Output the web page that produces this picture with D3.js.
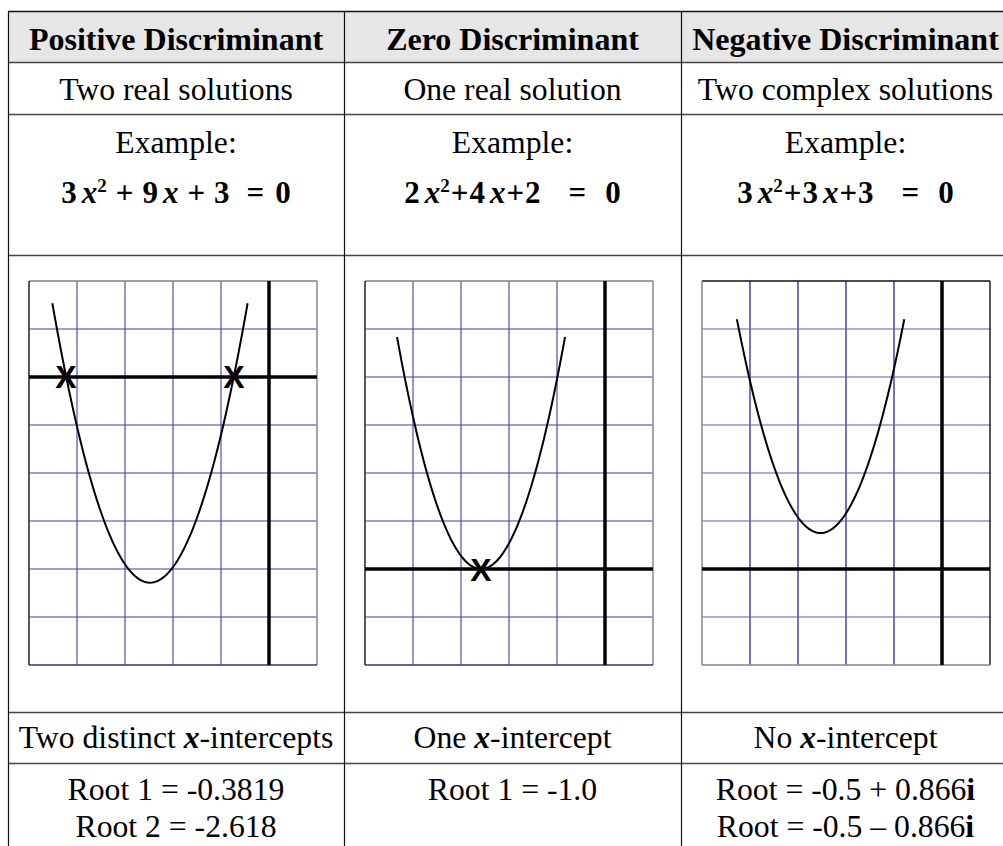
<!DOCTYPE html>
<html>
<head>
<meta charset="utf-8">
<script src="https://cdn.jsdelivr.net/npm/d3@7"></script>
<style>
  html, body { margin: 0; padding: 0; background: #fff; }
  svg { display: block; }
  text { font-family: "Liberation Serif", "Times New Roman", serif; fill: #000; }
</style>
</head>
<body>
<svg id="chart"></svg>
<script>
// table content
var headers   = ["Positive Discriminant", "Zero Discriminant", "Negative Discriminant"];
var solutions = ["Two real solutions", "One real solution", "Two complex solutions"];
var coefA = [3, 2, 3];
var coefB = [9, 4, 3];
var coefC = [3, 2, 3];
var spacedEq = [true, false, false];   // first example is typed with spaces round "+"
var interceptPre  = ["Two distinct ", "One ", "No "];
var interceptPost = ["-intercepts", "-intercept", "-intercept"];
var rootLines = [
  ["Root 1 = -0.3819", "Root 2 = -2.618"],
  ["Root 1 = -1.0"],
  ["Root = -0.5 + 0.866", "Root = -0.5 \u2013 0.866"]
];
var imagUnit = [false, false, true];

// sketch of each graph (the drawings are not to exact scale)
var roots   = [[-2.618, -0.382], [-1.0], []];
var curveX  = [[-2.8, -0.2], [-2.12, 0.12], [-1.62, 0.62]];
var viewX   = [[-3.111, 0.724], [-2.547, 1.293], [-2.087, 1.767]];
var viewY   = [[-5.245, 1.724], [-1.038, 3.114], [-0.074, 6.687]];
var axisRow = [2, 6, 6];   // horizontal grid line used as x-axis
var axisCol = [5, 5, 5];   // vertical grid line used as y-axis
var gridCols = 6, gridRows = 8;

var width = 1003, height = 846;
var colEdges = [8, 344, 681, 1010];
var rowEdges = [11, 62, 114, 255, 712, 763, 900];

var svg = d3.select("#chart").attr("width", width).attr("height", height);

// header background
svg.append("rect")
    .attr("x", colEdges[0]).attr("y", rowEdges[0])
    .attr("width", colEdges[3] - colEdges[0]).attr("height", rowEdges[1] - rowEdges[0])
    .attr("fill", "#e6e6e6");

// row rules
svg.selectAll(".hrule")
    .data(rowEdges.slice(0, 6))
    .enter().append("line")
    .attr("class", "hrule")
    .attr("x1", colEdges[0]).attr("x2", colEdges[3])
    .attr("y1", function(d) { return d + 0.5; })
    .attr("y2", function(d) { return d + 0.5; })
    .attr("stroke", function(d, i) { return i == 0 ? "#111" : "#444"; })
    .attr("stroke-width", 1.4);

// column rules
svg.selectAll(".vrule")
    .data(colEdges)
    .enter().append("line")
    .attr("class", "vrule")
    .attr("x1", function(d) { return d + 0.5; })
    .attr("x2", function(d) { return d + 0.5; })
    .attr("y1", rowEdges[0]).attr("y2", height)
    .attr("stroke", "#111")
    .attr("stroke-width", 1.2);

var centers = d3.range(3).map(function(i) { return (colEdges[i] + colEdges[i + 1]) / 2; });

function addLine(i, y, txt, opts) {
  return svg.append("text")
      .attr("x", centers[i])
      .attr("y", y)
      .attr("text-anchor", "middle")
      .style("font-size", opts && opts.bold ? "32px" : "31.7px")
      .style("font-weight", opts && opts.bold ? "bold" : null)
      .text(txt);
}

headers.forEach(function(h, i) { addLine(i, 50, h, {bold: true}); });
solutions.forEach(function(s, i) { addLine(i, 100, s); });
headers.forEach(function(h, i) { addLine(i, 153, "Example:"); });

// the example equations, built from the coefficients
headers.forEach(function(h, i) {
  var gap = spacedEq[i] ? 9 : 1;
  var t = svg.append("text")
      .attr("x", centers[i])
      .attr("y", 203)
      .attr("text-anchor", "middle")
      .style("font-size", "31px")
      .style("font-weight", "bold");
  t.append("tspan").text(coefA[i]);
  t.append("tspan").attr("dx", 5).style("font-style", "italic").text("x");
  t.append("tspan").attr("dx", 0).attr("dy", -11).style("font-size", "19px").text("2");
  t.append("tspan").attr("dx", gap).attr("dy", 11).text("+");
  t.append("tspan").attr("dx", gap).text(coefB[i]);
  t.append("tspan").attr("dx", 5).style("font-style", "italic").text("x");
  t.append("tspan").attr("dx", gap).text("+");
  t.append("tspan").attr("dx", gap).text(coefC[i]);
  t.append("tspan").attr("dx", spacedEq[i] ? 17 : 28).text("=");
  t.append("tspan").attr("dx", spacedEq[i] ? 11 : 19).text("0");
});

// graphs
headers.forEach(function(h, i) {
  var left = colEdges[i] + 21, top = 281;
  var cell = 48;
  var gx = d3.scaleLinear().domain([0, gridCols]).range([left, left + gridCols * cell]);
  var gy = d3.scaleLinear().domain([0, gridRows]).range([top, top + gridRows * cell]);

  var x = d3.scaleLinear().domain(viewX[i]).range(gx.range());
  var y = d3.scaleLinear().domain(viewY[i]).range([gy.range()[1], gy.range()[0]]);

  var g = svg.append("g").attr("class", "graph");

  g.selectAll(".gv")
      .data(d3.range(1, gridCols))
      .enter().append("line")
      .attr("x1", function(d) { return gx(d); }).attr("x2", function(d) { return gx(d); })
      .attr("y1", gy(0)).attr("y2", gy(gridRows))
      .attr("stroke", i == 2 ? "#000080" : "#3e3eaa")
      .attr("stroke-width", 1.1);

  g.selectAll(".gh")
      .data(d3.range(1, gridRows))
      .enter().append("line")
      .attr("x1", gx(0)).attr("x2", gx(gridCols))
      .attr("y1", function(d) { return gy(d); }).attr("y2", function(d) { return gy(d); })
      .attr("stroke", i == 2 ? "#5a5ab4" : "#3e3eaa")
      .attr("stroke-width", 1.1);

  // frame
  g.append("line").attr("x1", gx(0)).attr("x2", gx(gridCols)).attr("y1", gy(0)).attr("y2", gy(0))
      .attr("stroke", i == 2 ? "#111" : "#808080").attr("stroke-width", 1.4);
  g.append("line").attr("x1", gx(gridCols)).attr("x2", gx(gridCols)).attr("y1", gy(0)).attr("y2", gy(gridRows))
      .attr("stroke", i == 2 ? "#111" : "#808080").attr("stroke-width", 1.4);
  g.append("line").attr("x1", gx(0)).attr("x2", gx(gridCols)).attr("y1", gy(gridRows)).attr("y2", gy(gridRows))
      .attr("stroke", i == 2 ? "#8080a0" : "#303080").attr("stroke-width", 1.4);
  g.append("line").attr("x1", gx(0)).attr("x2", gx(0)).attr("y1", gy(0)).attr("y2", gy(gridRows))
      .attr("stroke", i == 2 ? "#808080" : "#111").attr("stroke-width", 1.4);

  // axes
  g.append("line")
      .attr("x1", gx(0)).attr("x2", gx(gridCols))
      .attr("y1", gy(axisRow[i])).attr("y2", gy(axisRow[i]))
      .attr("stroke", "#000").attr("stroke-width", 3.5);
  g.append("line")
      .attr("x1", gx(axisCol[i])).attr("x2", gx(axisCol[i]))
      .attr("y1", gy(0)).attr("y2", gy(gridRows))
      .attr("stroke", "#000").attr("stroke-width", 3.5);

  // parabola
  var a = coefA[i], b = coefB[i], c = coefC[i];
  var pts = d3.range(0, 1.0001, 0.01).map(function(t) {
    var xv = curveX[i][0] + t * (curveX[i][1] - curveX[i][0]);
    return [xv, a * xv * xv + b * xv + c];
  });
  g.append("path")
      .datum(pts)
      .attr("fill", "none")
      .attr("stroke", "#000")
      .attr("stroke-width", 2)
      .attr("d", d3.line().x(function(d) { return x(d[0]); }).y(function(d) { return y(d[1]); }));

  // intercept marks
  g.selectAll(".mark")
      .data(roots[i])
      .enter().append("text")
      .attr("x", function(d) { return x(d); })
      .attr("y", y(0))
      .attr("dy", "0.36em")
      .attr("text-anchor", "middle")
      .style("font-family", "'Liberation Sans', Arial, sans-serif")
      .style("font-weight", "bold")
      .style("font-size", "32px")
      .text("X");
});

// intercept row
headers.forEach(function(h, i) {
  var t = addLine(i, 748, "");
  t.append("tspan").text(interceptPre[i]);
  t.append("tspan").style("font-weight", "bold").style("font-style", "italic").text("x");
  t.append("tspan").text(interceptPost[i]);
});

// roots row
rootLines.forEach(function(lines, i) {
  lines.forEach(function(l, k) {
    var t = addLine(i, 800 + k * 37, "");
    t.append("tspan").text(l);
    if (imagUnit[i]) t.append("tspan").style("font-weight", "bold").text("i");
  });
});
</script>
</body>
</html>
